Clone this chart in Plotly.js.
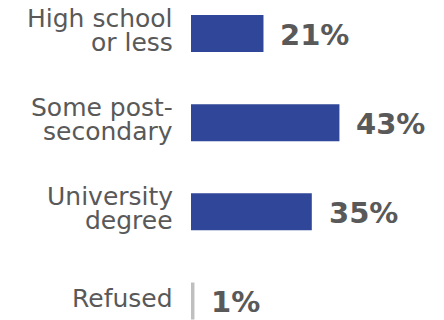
<!DOCTYPE html>
<html>
<head>
<meta charset="utf-8">
<script src="https://cdn.plot.ly/plotly-3.0.1.min.js"></script>
<style>html,body{margin:0;padding:0;background:#fff;}#chart{width:444px;height:320px;}</style>
</head>
<body>
<div id="chart"></div>
<script>
const categories = ["High school<br>or less", "Some post-<br>secondary", "University<br>degree", "Refused"];
const values = [21, 43, 35, 1];
const valueLabels = ["21%", "43%", "35%", "1%"];
const barColors = ["#2F4699", "#2F4699", "#2F4699", "#BFBFBF"];

const textColor = "#595959";
const ids = categories.map((c, i) => "c" + i);

const annotations = [];
categories.forEach((c, i) => {
  const lines = c.split("<br>");
  const n = lines.length;
  lines.forEach((ln, k) => {
    annotations.push({
      xref: "paper", x: 0, xanchor: "right", xshift: -16,
      yref: "y", y: ids[i], yanchor: "middle",
      yshift: ((n - 1) / 2 - k) * 24 + 3,
      text: ln, showarrow: false,
      font: {family: "DejaVu Sans", size: 25, color: textColor}
    });
  });
  annotations.push({
    xref: "x", x: values[i], xanchor: "left", xshift: 15,
    yref: "y", y: ids[i], yanchor: "middle", yshift: -1,
    text: valueLabels[i], showarrow: false,
    font: {family: "DejaVu Sans", size: 29, color: textColor, weight: "bold"}
  });
});

Plotly.newPlot("chart", [{
  type: "bar", orientation: "h",
  x: values, y: ids,
  marker: {color: barColors},
  width: 0.415,
  hoverinfo: "none"
}], {
  width: 444, height: 320,
  margin: {l: 191, r: 0, t: 0, b: 0},
  paper_bgcolor: "#fff", plot_bgcolor: "#fff",
  showlegend: false,
  xaxis: {range: [0, 73.3], visible: false, fixedrange: true},
  yaxis: {type: "category", range: [3.213, -0.376], showticklabels: false,
          showgrid: false, zeroline: false, showline: false, ticks: "", fixedrange: true},
  annotations: annotations
}, {displayModeBar: false, staticPlot: true});
</script>
</body>
</html>
